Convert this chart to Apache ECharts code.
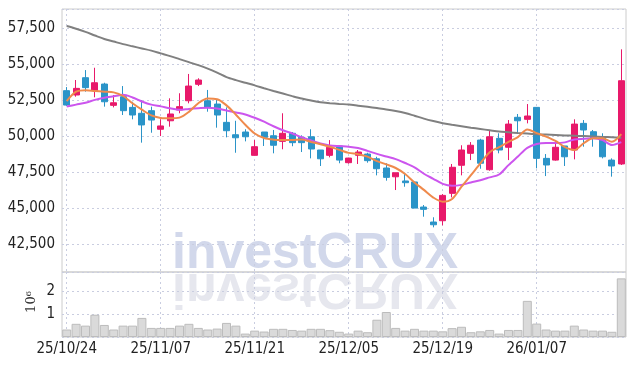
<!DOCTYPE html>
<html><head><meta charset="utf-8">
<script src="https://cdn.jsdelivr.net/npm/echarts@6/dist/echarts.min.js"></script>
<style>html,body{margin:0;padding:0;background:#fff}#c{width:634px;height:366px}</style>
</head><body><div id="c"></div>
<script>
const dates = ['25/10/24','25/10/27','25/10/28','25/10/29','25/10/30','25/10/31','25/11/03','25/11/04','25/11/05','25/11/06',
'25/11/07','25/11/10','25/11/11','25/11/12','25/11/13','25/11/14','25/11/17','25/11/18','25/11/19','25/11/20',
'25/11/21','25/11/24','25/11/25','25/11/26','25/11/27','25/11/28','25/12/01','25/12/02','25/12/03','25/12/04',
'25/12/05','25/12/08','25/12/09','25/12/10','25/12/11','25/12/12','25/12/15','25/12/16','25/12/17','25/12/18',
'25/12/19','25/12/22','25/12/23','25/12/24','25/12/26','25/12/29','25/12/30','26/01/02','26/01/05','26/01/06',
'26/01/07','26/01/08','26/01/09','26/01/12','26/01/13','26/01/14','26/01/15','26/01/16','26/01/19','26/01/20'];
const opens  = [53170,52870,54070,53170,53630,52150,52750,52010,51600,51780,50490,51080,51830,52470,53610,52470,52240,50970,50110,50300,
48680,50300,50040,49650,50210,49930,49970,49050,48680,49330,48170,48680,48770,48440,47800,47190,46900,46830,45090,44050,
44140,46040,47990,48820,49740,47680,49860,49240,51320,51180,52010,48470,48350,49330,49050,50900,50320,49930,48350,48080];
const closes = [52170,53330,53380,53720,52400,52330,51780,51480,50790,51130,50720,51550,52060,53490,53910,52010,51480,50390,49900,49970,
49280,49930,49380,50210,49560,49560,49120,48440,49240,48350,48490,48910,48310,47750,47150,47470,46780,45020,44930,43860,
45900,47850,49050,49380,48130,49970,49050,50850,51080,51410,48470,48010,49240,48580,50850,50440,49860,48580,47940,53860];
const lows   = [52100,52750,53100,52710,52060,52010,51480,51180,49560,50250,50020,50670,51600,52290,53490,51710,50600,49930,48860,49650,
48680,49330,48820,49100,49310,48910,48470,47940,48540,48130,48100,48080,48170,47290,46920,46270,46500,45020,44420,43680,
43820,45760,47290,48350,47750,47610,48820,48350,50160,50900,47780,47240,48310,47940,48400,49280,49280,48470,47200,48010];
const highs  = [53420,53910,54600,54760,53720,52870,53490,52400,52520,52060,51180,52640,52990,54330,54030,53220,52520,52010,51080,50490,
49740,50300,50440,51600,50300,50070,50490,49050,49740,49330,48510,49050,48860,48580,48130,47470,47470,46830,45230,44380,
45990,48080,49380,49600,49830,50390,50210,51130,51550,52240,52010,48770,49740,49330,51180,51130,50440,50210,48470,56040];
const ma5  = [52450,53100,53200,53150,53100,53050,52800,52300,51850,51450,51280,51250,51300,51700,52300,52620,52580,52150,51500,50800,
50200,49880,49770,49740,49750,49780,49610,49450,49280,49060,48850,48760,48590,48280,48050,47800,47380,46800,46280,45750,
45460,45650,46500,47300,48120,48900,49250,49620,49950,50480,50220,49980,49680,49250,49050,49520,49860,49860,49620,50150];
const ma20 = [52070,52200,52330,52530,52680,52780,52880,52700,52420,52200,52080,51950,51840,51900,51950,51990,51930,51800,51660,51520,
51290,51020,50700,50420,50200,49940,49720,49500,49370,49320,49280,49190,48990,48780,48600,48420,48150,47850,47400,47050,
46700,46570,46630,46800,46950,47150,47350,48000,48600,49200,49470,49540,49530,49580,49780,49830,49860,49740,49400,49600];
const ma60 = [57660,57470,57250,57000,56760,56580,56400,56250,56100,55950,55760,55570,55360,55150,54940,54700,54420,54110,53900,53720,
53540,53340,53150,52970,52790,52620,52480,52360,52300,52250,52210,52130,52050,51960,51870,51760,51620,51430,51230,51060,
50910,50800,50700,50600,50510,50420,50330,50280,50230,50190,50150,50120,50090,50060,50040,50020,49990,49960,49930,49900];
const volumes = [0.33,0.58,0.50,0.98,0.53,0.33,0.50,0.50,0.84,0.40,0.40,0.40,0.50,0.58,0.40,0.33,0.37,0.62,0.50,0.15,
0.28,0.24,0.36,0.36,0.31,0.28,0.36,0.36,0.30,0.23,0.15,0.28,0.21,0.76,1.10,0.40,0.28,0.36,0.28,0.28,
0.25,0.39,0.45,0.21,0.25,0.31,0.15,0.31,0.31,1.59,0.59,0.33,0.28,0.28,0.50,0.33,0.28,0.28,0.23,2.58].map(v => v * 1e6);

const candles = opens.map((o, i) => [o, closes[i], lows[i], highs[i]]);
const FONT = '"Liberation Sans Narrow","DejaVu Sans Condensed","Roboto Condensed",sans-serif';
const gridLine = { color: '#c9cde0', width: 1, type: [2, 3] };
const chart = echarts.init(document.getElementById('c'), null, { renderer: 'canvas' });
chart.setOption({
  animation: false,
  backgroundColor: '#fff',
  grid: [
    { left: 62, right: 8, top: 9, height: 263, show: true, borderColor: '#cccccc', borderWidth: 1 },
    { left: 62, right: 8, top: 272, height: 65, show: true, borderColor: '#cccccc', borderWidth: 1 }
  ],
  graphic: [
    { type: 'text', x: 172, y: 254, z: -10, silent: true,
      style: { text: 'investCRUX', font: 'bold 50px "Liberation Sans", Arial, sans-serif', fill: '#d2d8eb', verticalAlign: 'middle' } },
    { type: 'text', x: 172, y: 271, scaleY: -1, z: -10, silent: true,
      style: { text: 'investCRUX', x: 0, y: -17, font: 'bold 50px "Liberation Sans", Arial, sans-serif', fill: '#e6e7ee', verticalAlign: 'middle' } },
    { type: 'text', x: 32, y: 302, rotation: Math.PI / 2, silent: true,
      style: { text: '10⁶', font: '13px "DejaVu Serif", serif', fill: '#333', align: 'center', verticalAlign: 'middle' } }
  ],
  xAxis: [
    { type: 'category', gridIndex: 0, data: dates, boundaryGap: true,
      axisLine: { show: false }, axisTick: { show: false }, axisLabel: { show: false },
      splitLine: { show: true, interval: 9, alignWithLabel: true, lineStyle: gridLine } },
    { type: 'category', gridIndex: 1, data: dates, boundaryGap: true,
      axisLine: { show: false }, axisTick: { show: false },
      axisLabel: { interval: 9, margin: 5, fontFamily: FONT, fontSize: 15, color: '#222' },
      splitLine: { show: true, interval: 9, alignWithLabel: true, lineStyle: gridLine } }
  ],
  yAxis: [
    { type: 'value', gridIndex: 0, min: 40580, max: 58840, minInterval: 2500, maxInterval: 2500,
      axisLine: { show: false }, axisTick: { show: false },
      axisLabel: { showMinLabel: false, showMaxLabel: false, margin: 7, fontFamily: FONT, fontSize: 15, color: '#222',
        formatter: v => v.toLocaleString('en-US') },
      splitLine: { show: true, lineStyle: gridLine } },
    { type: 'value', gridIndex: 1, min: 0, max: 2.86e6, minInterval: 1e6, maxInterval: 1e6,
      axisLine: { show: false }, axisTick: { show: false },
      axisLabel: { showMinLabel: false, showMaxLabel: false, margin: 7, fontFamily: FONT, fontSize: 15, color: '#222',
        formatter: v => String(Math.round(v / 1e6)) },
      splitLine: { show: true, lineStyle: gridLine } }
  ],
  series: [
    { type: 'candlestick', xAxisIndex: 0, yAxisIndex: 0, data: candles, barWidth: '70%',
      itemStyle: { color: '#e8196a', color0: '#2b94c8', borderColor: '#e8196a', borderColor0: '#2b94c8', borderWidth: 1 } },
    { type: 'line', xAxisIndex: 0, yAxisIndex: 0, data: ma60, symbol: 'none', smooth: 0.3,
      lineStyle: { color: '#808080', width: 2 } },
    { type: 'line', xAxisIndex: 0, yAxisIndex: 0, data: ma20, symbol: 'none', smooth: 0.3,
      lineStyle: { color: '#cc55ee', width: 2 } },
    { type: 'line', xAxisIndex: 0, yAxisIndex: 0, data: ma5, symbol: 'none', smooth: 0.3,
      lineStyle: { color: '#ef8a4c', width: 2 } },
    { type: 'bar', xAxisIndex: 1, yAxisIndex: 1, data: volumes, barCategoryGap: '4%',
      itemStyle: { color: '#dadada', borderColor: '#bcbcbc', borderWidth: 1 } }
  ]
});
</script></body></html>
